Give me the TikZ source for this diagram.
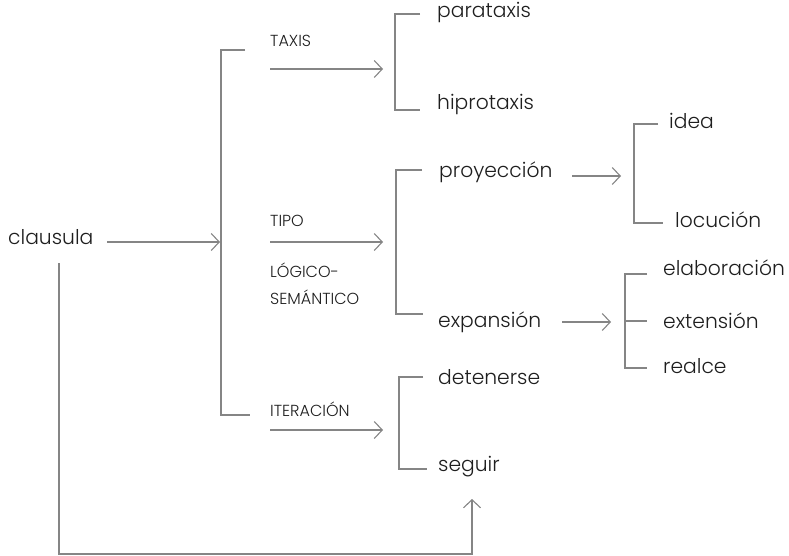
\documentclass[tikz,border=0pt]{standalone}
\usepackage{fontspec}
\setmainfont{Poppins Light}
\usetikzlibrary{arrows.meta}
\definecolor{linegray}{HTML}{858585}
\definecolor{textgray}{HTML}{1E1E1E}
\tikzset{
  term/.style={anchor=base west, inner sep=0pt, text=textgray, font=\fontsize{20.3}{23}\selectfont},
  tag/.style={anchor=base west, inner sep=0pt, text=textgray, font=\fontsize{16}{18}\selectfont},
  brace/.style={draw=linegray, line width=1.1pt},
  link/.style={draw=linegray, line width=1.1pt, -{Straight Barb[length=8pt,width=17pt,line width=1.1pt]}},
}
\begin{document}
\begin{tikzpicture}[x=1pt,y=-1pt]
\useasboundingbox (0,0) rectangle (789,556);

% words
\node[term] (clausula) at (8,244) {clausula};
\node[term] (parataxis) at (437,18) {parataxis};
\node[term] (hiprotaxis) at (437,110) {hiprotaxis};
\node[term] (proyeccion) at (439,178) {proyección};
\node[term] (expansion) at (438,327) {expansión};
\node[term] (idea) at (669,129) {idea};
\node[term] (locucion) at (675,227) {locución};
\node[term] (elaboracion) at (663,275) {elaboración};
\node[term] (extension) at (663,328) {extensión};
\node[term] (realce) at (663,373) {realce};
\node[term] (detenerse) at (438,384) {detenerse};
\node[term] (seguir) at (438,471) {seguir};

% system labels
\node[tag] (taxis) at (270,47) {TAXIS};
\node[tag] (tipo) at (270,226) {TIPO};
\node[tag] (logico) at (270,277) {LÓGICO-};
\node[tag] (semantico) at (270,304) {SEMÁNTICO};
\node[tag] (iteracion) at (270,416) {ITERACIÓN};

% bracket corners
\coordinate (m1) at (245,50);  \coordinate (m2) at (221,50);
\coordinate (m3) at (221,415); \coordinate (m4) at (250,415);
\coordinate (t1) at (420,14);  \coordinate (t2) at (395,14);
\coordinate (t3) at (395,110); \coordinate (t4) at (420,110);
\coordinate (p1) at (422,170); \coordinate (p2) at (396,170);
\coordinate (p3) at (396,314); \coordinate (p4) at (423,314);
\coordinate (i1) at (658,124); \coordinate (i2) at (634,124);
\coordinate (i3) at (634,223); \coordinate (i4) at (663,223);
\coordinate (e1) at (647,274); \coordinate (e2) at (625,274);
\coordinate (e3) at (625,368); \coordinate (e4) at (647,368);
\coordinate (em) at (625,321); \coordinate (en) at (647,321);
\coordinate (d1) at (423,377); \coordinate (d2) at (399,377);
\coordinate (d3) at (399,469); \coordinate (d4) at (427,469);

\draw[brace] (m1) -- (m2) -- (m3) -- (m4);
\draw[brace] (t1) -- (t2) -- (t3) -- (t4);
\draw[brace] (p1) -- (p2) -- (p3) -- (p4);
\draw[brace] (i1) -- (i2) -- (i3) -- (i4);
\draw[brace] (e1) -- (e2) -- (e3) -- (e4);
\draw[brace] (em) -- (en);
\draw[brace] (d1) -- (d2) -- (d3) -- (d4);

% arrow ends
\coordinate (a0s) at (107,242); \coordinate (a0e) at (220,242);
\coordinate (a1s) at (270,69);  \coordinate (a1e) at (383,69);
\coordinate (a2s) at (270,242); \coordinate (a2e) at (383,242);
\coordinate (a3s) at (270,430); \coordinate (a3e) at (383,430);
\coordinate (a4s) at (572,176); \coordinate (a4e) at (621,176);
\coordinate (a5s) at (562,322); \coordinate (a5e) at (611,322);
\coordinate (l0) at (59,263);   \coordinate (l1) at (59,554);
\coordinate (l2) at (472,554);  \coordinate (l3) at (472,499);

\draw[link] (a0s) -- (a0e);
\draw[link] (a1s) -- (a1e);
\draw[link] (a2s) -- (a2e);
\draw[link] (a3s) -- (a3e);
\draw[link] (a4s) -- (a4e);
\draw[link] (a5s) -- (a5e);
\draw[link] (l0) -- (l1) -- (l2) -- (l3);
\end{tikzpicture}
\end{document}
